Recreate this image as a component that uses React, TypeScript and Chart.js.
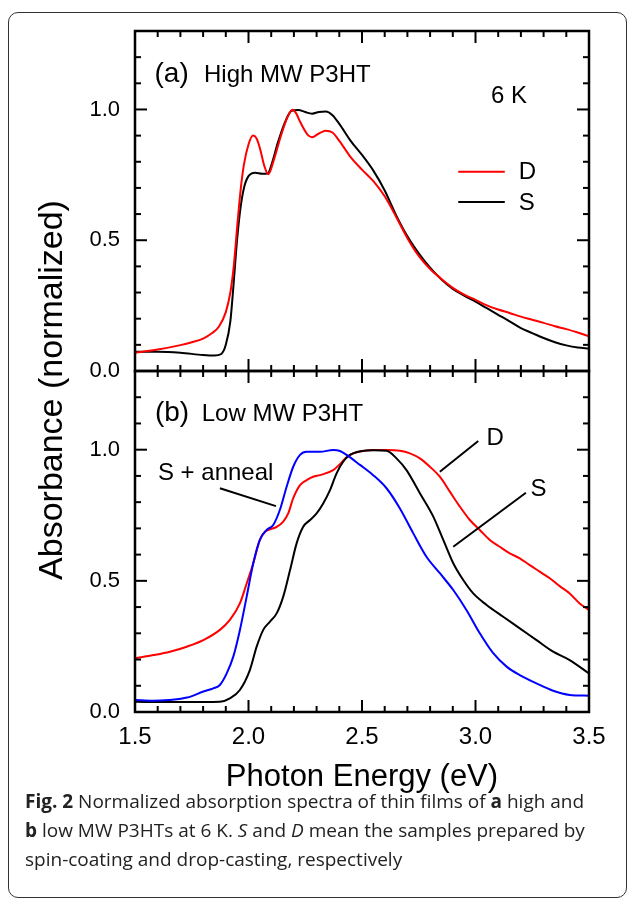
import React, { useEffect, useRef } from "react";
import { Chart, registerables } from "chart.js";

Chart.register(...registerables);

const FONT = '"Liberation Sans", Arial, Helvetica, sans-serif';

// ---- axes ----
const X_MIN = 1.5;
const X_MAX = 3.5;
const Y_MIN = 0;
const Y_MAX = 1.3;
const xTickValues = [1.5, 2.0, 2.5, 3.0, 3.5];
const yTickValues = [0, 0.5, 1.0];

// ---- panel (a): high MW P3HT ----
const aDropE = [1.50,1.60,1.70,1.75,1.80,1.84,1.87,1.90,1.92,1.935,1.95,1.965,1.98,2.00,2.02,2.035,2.05,2.07,2.087,2.11,2.14,2.17,2.194,2.21,2.23,2.26,2.28,2.31,2.34,2.37,2.40,2.45,2.50,2.55,2.60,2.65,2.70,2.75,2.80,2.85,2.90,2.95,3.00,3.05,3.10,3.15,3.20,3.25,3.30,3.35,3.40,3.45,3.50];
const aDropA = [0.070,0.082,0.099,0.110,0.124,0.145,0.170,0.225,0.300,0.400,0.550,0.690,0.790,0.866,0.900,0.890,0.853,0.783,0.752,0.802,0.891,0.967,0.999,0.985,0.948,0.904,0.894,0.908,0.919,0.912,0.880,0.818,0.770,0.726,0.668,0.590,0.508,0.440,0.390,0.352,0.318,0.292,0.272,0.251,0.235,0.222,0.208,0.196,0.184,0.171,0.160,0.147,0.133];

const aSpinE = [1.50,1.60,1.70,1.80,1.85,1.88,1.90,1.92,1.935,1.95,1.965,1.98,2.00,2.03,2.06,2.085,2.10,2.13,2.16,2.19,2.22,2.25,2.28,2.31,2.34,2.37,2.40,2.45,2.50,2.55,2.60,2.65,2.70,2.75,2.80,2.85,2.90,2.95,3.00,3.05,3.10,3.15,3.20,3.25,3.30,3.35,3.40,3.45,3.50];
const aSpinA = [0.074,0.074,0.070,0.061,0.059,0.065,0.100,0.190,0.340,0.505,0.625,0.700,0.745,0.758,0.754,0.755,0.785,0.875,0.950,0.995,0.998,0.990,0.984,0.990,0.992,0.978,0.945,0.880,0.826,0.766,0.690,0.596,0.515,0.450,0.395,0.350,0.314,0.288,0.265,0.240,0.215,0.190,0.164,0.145,0.126,0.110,0.098,0.090,0.086];

// ---- panel (b): low MW P3HT ----
const bDropE = [1.500,1.581,1.654,1.728,1.801,1.874,1.918,1.962,1.992,2.021,2.050,2.072,2.094,2.124,2.153,2.175,2.197,2.227,2.256,2.285,2.315,2.373,2.403,2.432,2.461,2.505,2.549,2.608,2.667,2.711,2.755,2.799,2.843,2.887,2.931,2.975,3.019,3.063,3.107,3.151,3.195,3.239,3.283,3.327,3.371,3.415,3.459,3.500];
const bDropA = [0.205,0.217,0.230,0.249,0.274,0.313,0.351,0.414,0.490,0.567,0.656,0.687,0.696,0.706,0.726,0.757,0.815,0.865,0.884,0.897,0.903,0.922,0.945,0.971,0.986,0.995,0.999,0.999,0.996,0.986,0.967,0.935,0.897,0.840,0.783,0.732,0.694,0.656,0.630,0.605,0.586,0.560,0.535,0.510,0.480,0.452,0.414,0.389];

const bSpinE = [1.500,1.650,1.800,1.874,1.918,1.962,2.006,2.036,2.065,2.094,2.124,2.153,2.183,2.212,2.241,2.271,2.300,2.329,2.359,2.388,2.417,2.447,2.500,2.550,2.608,2.652,2.696,2.755,2.814,2.858,2.902,2.946,2.990,3.049,3.122,3.195,3.269,3.342,3.415,3.500];
const bSpinA = [0.039,0.038,0.038,0.039,0.052,0.084,0.160,0.249,0.313,0.344,0.376,0.440,0.541,0.643,0.706,0.732,0.757,0.795,0.846,0.910,0.954,0.980,0.995,0.998,0.996,0.967,0.922,0.834,0.745,0.656,0.567,0.503,0.452,0.408,0.363,0.319,0.274,0.230,0.198,0.147];

const bAnnealE = [1.500,1.580,1.650,1.730,1.801,1.845,1.874,1.904,1.933,1.962,1.992,2.021,2.050,2.080,2.109,2.138,2.168,2.197,2.227,2.256,2.315,2.373,2.403,2.432,2.491,2.549,2.608,2.667,2.726,2.784,2.843,2.902,2.960,3.019,3.078,3.137,3.195,3.269,3.342,3.415,3.500];
const bAnnealA = [0.046,0.043,0.046,0.055,0.078,0.090,0.103,0.147,0.211,0.312,0.440,0.567,0.656,0.694,0.713,0.770,0.859,0.935,0.980,0.992,0.992,0.999,0.995,0.980,0.942,0.903,0.853,0.776,0.681,0.592,0.529,0.465,0.389,0.300,0.224,0.173,0.141,0.109,0.081,0.065,0.062];

const RED = "#ff0000";
const BLACK = "#000000";
const BLUE = "#0000ff";

type Txt = { text: string; x: number; y: number; size: number; align?: CanvasTextAlign };
type Seg = { x1: number; y1: number; x2: number; y2: number; color: string };

const panelATexts: Txt[] = [
  { text: "(a)", x: 1.586, y: 1.104, size: 28 },
  { text: "High MW P3HT", x: 1.804, y: 1.104, size: 24 },
  { text: "6 K", x: 3.068, y: 1.024, size: 24 },
  { text: "D", x: 3.191, y: 0.733, size: 24 },
  { text: "S", x: 3.191, y: 0.616, size: 24 },
];
const panelASegs: Seg[] = [
  { x1: 2.924, y1: 0.762, x2: 3.129, y2: 0.762, color: RED },
  { x1: 2.924, y1: 0.646, x2: 3.129, y2: 0.646, color: BLACK },
];
const panelBTexts: Txt[] = [
  { text: "(b)", x: 1.588, y: 1.109, size: 28 },
  { text: "Low MW P3HT", x: 1.794, y: 1.109, size: 24 },
  { text: "S + anneal", x: 1.601, y: 0.8845, size: 24 },
  { text: "D", x: 3.049, y: 1.018, size: 24 },
  { text: "S", x: 3.242, y: 0.8235, size: 24 },
];
const panelBSegs: Seg[] = [
  { x1: 1.874, y1: 0.853, x2: 2.121, y2: 0.785, color: BLACK },
  { x1: 3.012, y1: 1.033, x2: 2.843, y2: 0.916, color: BLACK },
  { x1: 3.222, y1: 0.836, x2: 2.902, y2: 0.630, color: BLACK },
];

function series(xs: number[], ys: number[]) {
  return xs.map((x, i) => ({ x, y: ys[i] }));
}

function line(ctx: CanvasRenderingContext2D, x1: number, y1: number, x2: number, y2: number) {
  ctx.beginPath();
  ctx.moveTo(x1, y1);
  ctx.lineTo(x2, y2);
  ctx.stroke();
}

function makeDecor(texts: Txt[], segs: Seg[]) {
  return {
    id: "decor",
    afterDatasetsDraw(chart: any) {
      const { ctx, chartArea: a, scales } = chart;
      const xs = scales.x;
      const ys = scales.y;
      ctx.save();
      ctx.lineWidth = 2;
      for (const s of segs) {
        ctx.strokeStyle = s.color;
        line(ctx, xs.getPixelForValue(s.x1), ys.getPixelForValue(s.y1), xs.getPixelForValue(s.x2), ys.getPixelForValue(s.y2));
      }
      ctx.fillStyle = "#000";
      ctx.textBaseline = "alphabetic";
      for (const t of texts) {
        ctx.font = `${t.size}px ${FONT}`;
        ctx.textAlign = t.align || "left";
        ctx.fillText(t.text, xs.getPixelForValue(t.x), ys.getPixelForValue(t.y));
      }
      // inward ticks on all four sides
      ctx.strokeStyle = "#000";
      ctx.lineWidth = 2;
      const nx = Math.round((X_MAX - X_MIN) / 0.1);
      for (let i = 0; i <= nx; i++) {
        const v = X_MIN + i * 0.1;
        const len = i % 5 === 0 ? 12 : 6;
        const px = xs.getPixelForValue(v);
        line(ctx, px, a.bottom, px, a.bottom - len);
        line(ctx, px, a.top, px, a.top + len);
      }
      const ny = Math.round((Y_MAX - Y_MIN) / 0.1);
      for (let i = 0; i <= ny; i++) {
        const v = Y_MIN + i * 0.1;
        const len = i % 5 === 0 ? 12 : 6;
        const py = ys.getPixelForValue(v);
        line(ctx, a.left, py, a.left + len, py);
        line(ctx, a.right, py, a.right - len, py);
      }
      ctx.lineWidth = 2.5;
      ctx.strokeRect(a.left, a.top, a.right - a.left, a.bottom - a.top);
      ctx.restore();
    },
  };
}

function makeConfig(datasets: any[], showX: boolean, padding: any, texts: Txt[], segs: Seg[]): any {
  return {
    type: "line",
    data: { datasets },
    options: {
      animation: false,
      responsive: false,
      devicePixelRatio: 1,
      parsing: false,
      layout: { padding },
      elements: { point: { radius: 0 }, line: { borderWidth: 2, cubicInterpolationMode: "monotone" } },
      plugins: { legend: { display: false }, tooltip: { enabled: false }, title: { display: false } },
      scales: {
        x: {
          type: "linear",
          min: X_MIN,
          max: X_MAX,
          display: showX,
          grid: { display: false, drawTicks: false },
          border: { display: false },
          ticks: {
            color: "#000",
            font: { family: FONT, size: 24 },
            padding: 11,
            maxRotation: 0,
            callback: (v: any) => Number(v).toFixed(1),
          },
          afterBuildTicks: (s: any) => {
            s.ticks = xTickValues.map((value) => ({ value }));
          },
          afterFit: (s: any) => {
            s.height = showX ? 40 : 0;
          },
        },
        y: {
          type: "linear",
          min: Y_MIN,
          max: Y_MAX,
          grid: { display: false, drawTicks: false },
          border: { display: false },
          ticks: {
            color: "#000",
            font: { family: FONT, size: 22 },
            padding: 15,
            callback: (v: any) => Number(v).toFixed(1),
          },
          afterBuildTicks: (s: any) => {
            s.ticks = yTickValues.map((value) => ({ value }));
          },
          afterFit: (s: any) => {
            s.width = 50;
          },
        },
      },
    },
    plugins: [makeDecor(texts, segs)],
  };
}

export default function App() {
  const refA = useRef<HTMLCanvasElement>(null);
  const refB = useRef<HTMLCanvasElement>(null);

  useEffect(() => {
    document.body.style.margin = "0";
    const dsA = [
      { label: "D", data: series(aDropE, aDropA), borderColor: RED },
      { label: "S", data: series(aSpinE, aSpinA), borderColor: BLACK },
    ];
    const dsB = [
      { label: "S + anneal", data: series(bAnnealE, bAnnealA), borderColor: BLUE },
      { label: "S", data: series(bSpinE, bSpinA), borderColor: BLACK },
      { label: "D", data: series(bDropE, bDropA), borderColor: RED },
    ];
    const chartA = new Chart(
      refA.current as HTMLCanvasElement,
      makeConfig(dsA, false, { left: 85, right: 40, top: 31, bottom: 29 }, panelATexts, panelASegs)
    );
    const chartB = new Chart(
      refB.current as HTMLCanvasElement,
      makeConfig(dsB, true, { left: 85, right: 40, top: 31, bottom: 48 }, panelBTexts, panelBSegs)
    );
    return () => {
      chartA.destroy();
      chartB.destroy();
    };
  }, []);

  return (
    <div style={{ position: "relative", width: 629, height: 898, overflow: "hidden", background: "#fff" }}>
      <div
        style={{
          position: "absolute",
          left: 8,
          top: 12,
          width: 619,
          height: 886,
          border: "1.5px solid #333",
          borderRadius: 10,
          boxSizing: "border-box",
        }}
      />
      <canvas ref={refA} width={629} height={400} style={{ position: "absolute", left: 0, top: 0 }} />
      <canvas ref={refB} width={629} height={460} style={{ position: "absolute", left: 0, top: 340 }} />
      <div
        style={{
          position: "absolute",
          left: 50 - 220,
          top: 390 - 20,
          width: 440,
          height: 40,
          lineHeight: "40px",
          textAlign: "center",
          fontFamily: FONT,
          fontSize: 34,
          color: "#000",
          transform: "rotate(-90deg)",
          whiteSpace: "nowrap",
        }}
      >
        Absorbance (normalized)
      </div>
      <div
        style={{
          position: "absolute",
          left: 362 - 200,
          top: 760,
          width: 400,
          lineHeight: "31px",
          textAlign: "center",
          fontFamily: FONT,
          fontSize: 31,
          color: "#000",
          whiteSpace: "nowrap",
        }}
      >
        Photon Energy (eV)
      </div>
      <div
        style={{
          position: "absolute",
          left: 25,
          top: 787,
          fontFamily: '"Open Sans", sans-serif',
          fontSize: 19,
          lineHeight: "29px",
          color: "#222",
          whiteSpace: "nowrap",
        }}
      >
        <b>Fig. 2</b> Normalized absorption spectra of thin films of <b>a</b> high and
        <br />
        <b>b</b> low MW P3HTs at 6 K. <i>S</i> and <i>D</i> mean the samples prepared by
        <br />
        spin-coating and drop-casting, respectively
      </div>
    </div>
  );
}
